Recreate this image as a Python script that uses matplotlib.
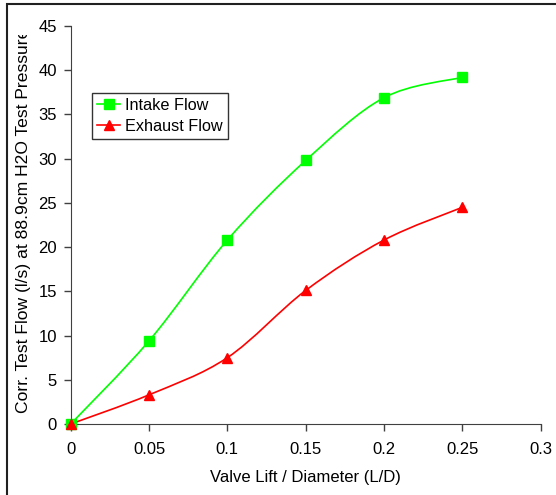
import matplotlib
matplotlib.use('Agg')
import matplotlib.pyplot as plt
import numpy as np
from matplotlib.path import Path
from matplotlib.patches import PathPatch, Rectangle
from matplotlib.transforms import Bbox, TransformedBbox

plt.rcParams['font.family'] = ['Liberation Sans', 'DejaVu Sans']

# data
lift = [0, 0.05, 0.1, 0.15, 0.2, 0.25]
intake = [0, 9.4, 20.8, 29.8, 36.9, 39.2]
exhaust = [0, 3.3, 7.5, 15.1, 20.8, 24.5]


def smooth_path(xs, ys):
    # excel style smoothed line: bezier segments, catmull-rom controls
    pts = np.column_stack([xs, ys]).astype(float)
    n = len(pts)
    verts = [pts[0]]
    codes = [Path.MOVETO]
    for i in range(n - 1):
        p0 = pts[i - 1] if i > 0 else pts[i]
        p1 = pts[i]
        p2 = pts[i + 1]
        p3 = pts[i + 2] if i + 2 < n else pts[i + 1]
        c1 = p1 + (p2 - p0) / 6.0
        c2 = p2 - (p3 - p1) / 6.0
        verts += [c1, c2, p2]
        codes += [Path.CURVE4] * 3
    return Path(verts, codes)


fs = 12
fig = plt.figure(figsize=(5.56, 4.95), dpi=100)
ax = fig.add_axes([70.7/556, 1 - 424/495, (540.7 - 70.7)/556, (424 - 26)/495])

axcol = '#404040'
for name, col, mk in [('Intake Flow', '#00ff00', 's'), ('Exhaust Flow', '#ff0000', '^')]:
    ys = intake if name == 'Intake Flow' else exhaust
    ax.add_patch(PathPatch(smooth_path(lift, ys), facecolor='none', edgecolor=col,
                           lw=1.2, clip_on=False, zorder=3))
    ax.plot(lift, ys, linestyle='none', marker=mk, color=col, markersize=6.5,
            clip_on=False, zorder=4)
    # legend proxy
    ax.plot([], [], color=col, lw=1.2, marker=mk, markersize=6.5, label=name)

ax.set_xlim(0, 0.3)
ax.set_ylim(0, 45)
ax.set_xticks([0, 0.05, 0.1, 0.15, 0.2, 0.25, 0.3])
ax.set_xticklabels(['0', '0.05', '0.1', '0.15', '0.2', '0.25', '0.3'])
ax.set_yticks(range(0, 46, 5))

ax.spines['top'].set_visible(False)
ax.spines['right'].set_visible(False)
ax.spines['left'].set_color(axcol)
ax.spines['bottom'].set_color(axcol)
ax.tick_params(direction='out', length=5, width=1, color=axcol, labelsize=fs,
               labelcolor='black')
ax.tick_params(axis='x', pad=8)
ax.tick_params(axis='y', pad=5)

ax.set_xlabel('Valve Lift / Diameter (L/D)', fontsize=fs, labelpad=9)
yl = ax.set_ylabel('Corr. Test Flow (l/s) at 88.9cm H2O Test Pressure', fontsize=12.6)
ax.yaxis.set_label_coords(-0.084, 0.51)
# label is cut off at the top, like in the original
yl.set_clip_box(TransformedBbox(Bbox([[0, 0], [1, 1 - 35/495]]), fig.transFigure))
yl.set_clip_on(True)

leg = ax.legend(loc='upper left', bbox_to_anchor=(92/556, 1 - 93/495),
                bbox_transform=fig.transFigure, frameon=True, fancybox=False,
                fontsize=11.7, handlelength=1.45, handletextpad=0.3,
                borderpad=0.3, labelspacing=0.38, borderaxespad=0)
leg.get_frame().set_edgecolor('black')
leg.get_frame().set_linewidth(1)

# chart border
fig.patches.append(Rectangle((7/556, -0.1), 1.2, 1 - 4/495 + 0.1,
                             transform=fig.transFigure, fill=False,
                             edgecolor='#202020', lw=1.5))

fig.savefig('out.png', dpi=100)
